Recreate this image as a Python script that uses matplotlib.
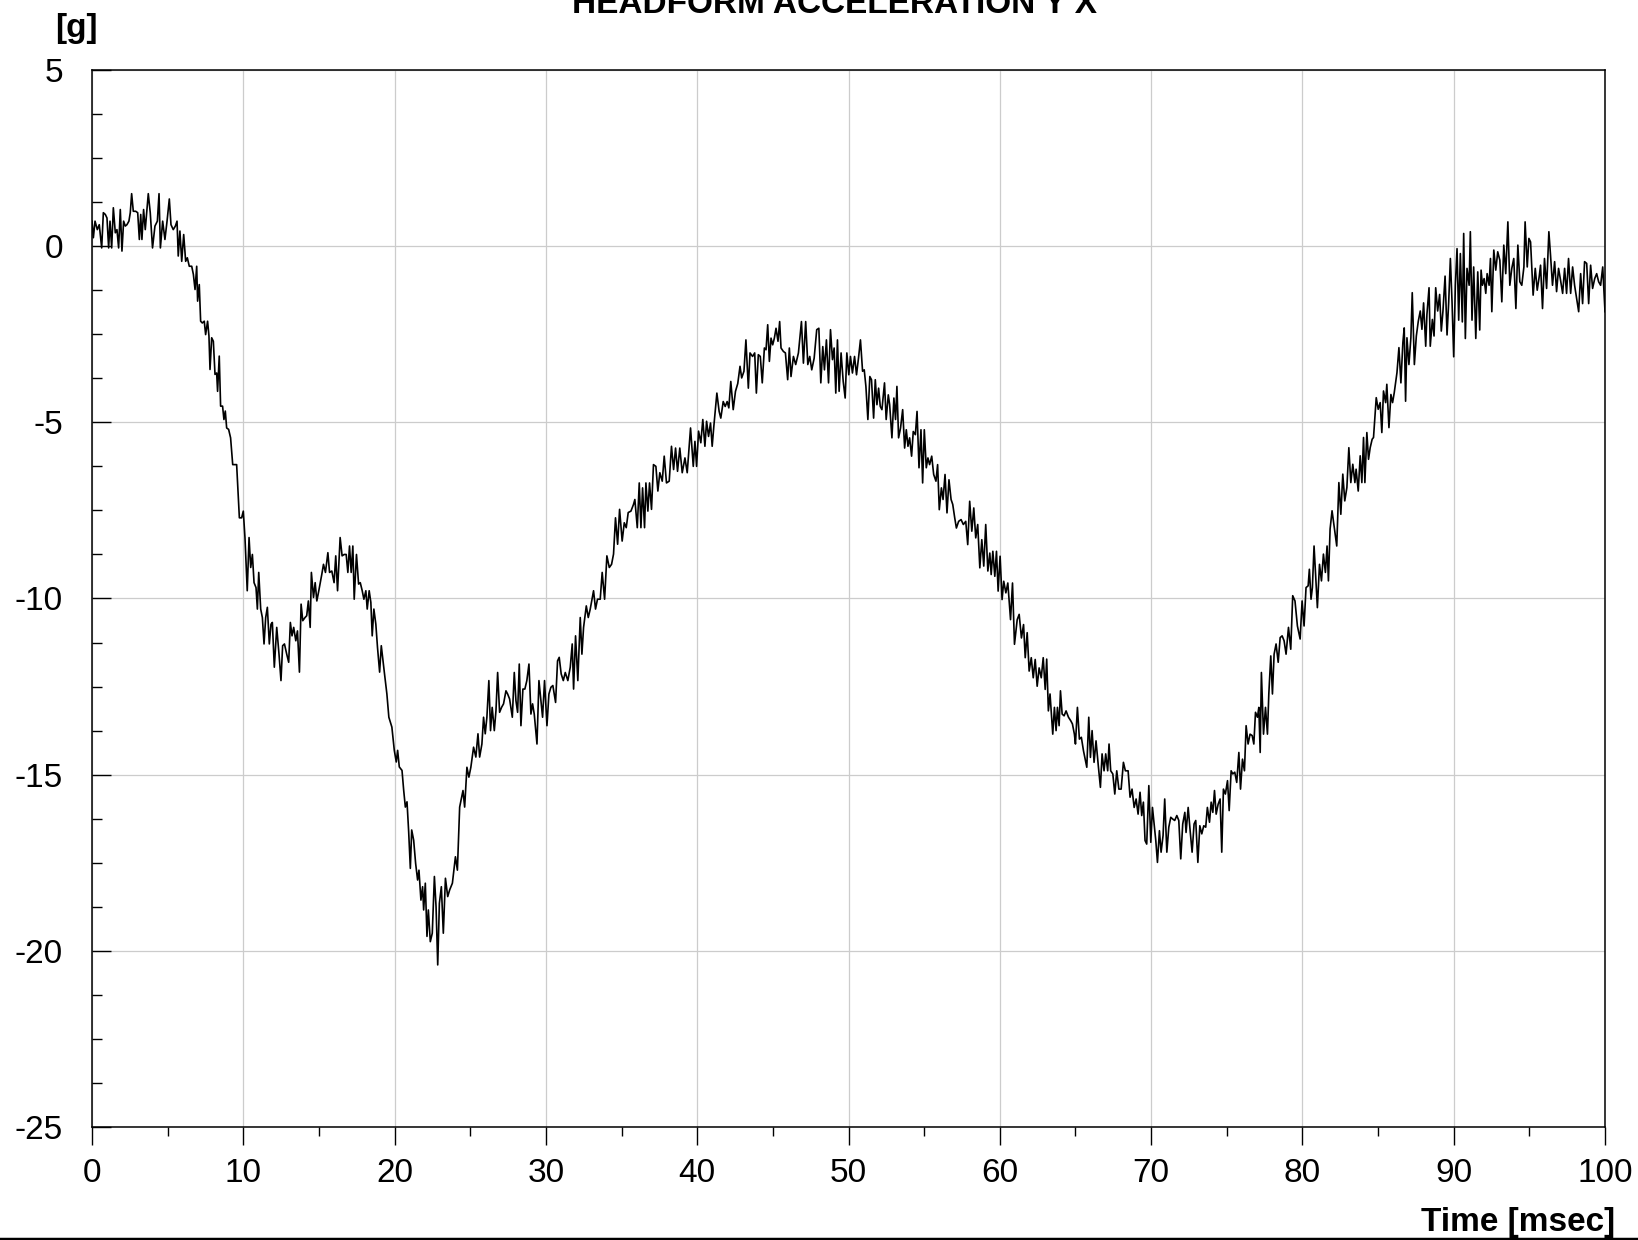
import numpy as np
import matplotlib
matplotlib.use("Agg")
import matplotlib.pyplot as plt
from matplotlib.lines import Line2D

plt.rcParams['font.family'] = ['Liberation Sans', 'DejaVu Sans']
plt.rcParams['axes.unicode_minus'] = False

# headform acceleration, sampled trace (time in msec, acceleration in g)
time_ms = [
    0.00, 0.09, 0.20, 0.35, 0.48, 0.64, 0.75, 0.88, 0.99, 1.10,
    1.19, 1.30, 1.41, 1.54, 1.65, 1.76, 1.87, 1.98, 2.09, 2.20,
    2.31, 2.44, 2.53, 2.62, 2.73, 2.89, 3.02, 3.13, 3.22, 3.30,
    3.41, 3.52, 3.72, 3.85, 4.00, 4.16, 4.32, 4.43, 4.52, 4.67,
    4.82, 4.96, 5.11, 5.22, 5.37, 5.51, 5.62, 5.70, 5.81, 5.93,
    6.06, 6.19, 6.30, 6.43, 6.59, 6.70, 6.81, 6.92, 6.98, 7.09,
    7.18, 7.29, 7.42, 7.51, 7.64, 7.73, 7.80, 7.91, 8.02, 8.13,
    8.24, 8.30, 8.41, 8.50, 8.63, 8.72, 8.81, 8.90, 9.03, 9.16,
    9.30, 9.56, 9.74, 9.89, 10.00,
    10.11, 10.26, 10.38, 10.49, 10.60, 10.71, 10.84, 10.93, 11.02, 11.15,
    11.26, 11.37, 11.48, 11.59, 11.72, 11.83, 11.92, 12.05, 12.21, 12.36,
    12.49, 12.60, 12.72, 12.87, 13.00, 13.11, 13.22, 13.33, 13.47, 13.58,
    13.71, 13.82, 13.93, 14.08, 14.19, 14.30, 14.42, 14.50, 14.64, 14.75,
    14.86, 14.99, 15.19, 15.30, 15.43, 15.59, 15.70, 15.85, 16.00, 16.11,
    16.23, 16.40, 16.53, 16.67, 16.80, 16.91, 17.02, 17.13, 17.24, 17.33,
    17.48, 17.62, 17.73, 17.86, 17.97, 18.10, 18.19, 18.32, 18.43, 18.52,
    18.63, 18.76, 18.87, 19.01, 19.12, 19.23, 19.32, 19.49, 19.62, 19.82,
    19.98, 20.11, 20.20, 20.31, 20.49, 20.60, 20.71, 20.82, 20.93, 21.04,
    21.13, 21.26, 21.39, 21.52, 21.61, 21.74, 21.85, 21.92, 22.03, 22.14,
    22.23, 22.36, 22.49, 22.63, 22.74, 22.85, 22.96, 23.09, 23.22, 23.36,
    23.51, 23.64, 23.82, 24.02, 24.15, 24.30,
    24.52, 24.63, 24.78, 24.91, 25.04, 25.22, 25.37, 25.51, 25.62, 25.77,
    25.88, 25.99, 26.10, 26.23, 26.34, 26.45, 26.59, 26.70, 26.81, 26.94,
    27.07, 27.20, 27.36, 27.47, 27.60, 27.78, 27.91, 28.02, 28.13, 28.24,
    28.35, 28.48, 28.61, 28.74, 28.88, 29.01, 29.12, 29.23, 29.41, 29.54,
    29.67, 29.78, 29.91, 30.07, 30.20, 30.33, 30.46, 30.64, 30.77, 30.88,
    31.01, 31.15, 31.28, 31.45, 31.61, 31.74, 31.83, 31.96, 32.11, 32.27,
    32.38, 32.49, 32.67, 32.80, 32.93, 33.15, 33.28, 33.41, 33.59, 33.72,
    33.88, 34.03, 34.19, 34.34, 34.47, 34.60, 34.74, 34.87, 35.04, 35.18,
    35.31, 35.44, 35.62, 35.79, 35.88, 36.04,
    36.17, 36.28, 36.39, 36.52, 36.61, 36.74, 36.85, 36.98, 37.11, 37.27,
    37.40, 37.53, 37.69, 37.82, 37.97, 38.15, 38.30, 38.44, 38.57, 38.70,
    38.85, 39.01, 39.19, 39.34, 39.56, 39.74, 39.85, 39.96, 40.09, 40.24,
    40.37, 40.51, 40.62, 40.75, 40.88, 40.99, 41.10, 41.30, 41.45, 41.56,
    41.72, 41.85, 41.98, 42.09, 42.22, 42.38, 42.53, 42.68,
    42.83, 42.94, 43.09, 43.22, 43.38, 43.49, 43.66, 43.80, 43.91, 44.04,
    44.17, 44.30, 44.44, 44.55, 44.66, 44.77, 44.88, 44.99, 45.10, 45.21,
    45.34, 45.45, 45.54, 45.70, 45.83, 45.98, 46.09, 46.20, 46.36, 46.51,
    46.69, 46.89, 47.02, 47.17, 47.31, 47.44, 47.57, 47.73, 47.90, 48.04,
    48.17, 48.30, 48.41, 48.54, 48.68, 48.81, 48.94, 49.05, 49.16, 49.27,
    49.38, 49.51, 49.65, 49.78, 49.89, 50.02, 50.13, 50.26, 50.40, 50.53,
    50.66, 50.79, 50.93, 51.04, 51.15, 51.28, 51.41, 51.52, 51.66, 51.77,
    51.88, 51.99, 52.10, 52.21, 52.38, 52.49, 52.63, 52.72, 52.87, 53.00,
    53.11, 53.20, 53.31, 53.44, 53.58, 53.71, 53.82, 53.93, 54.04, 54.17,
    54.28, 54.42, 54.53, 54.66, 54.79, 54.90, 55.01, 55.14, 55.25, 55.36,
    55.50, 55.63, 55.78, 55.89, 56.00, 56.14, 56.25, 56.38, 56.51, 56.64,
    56.78, 56.89, 57.02, 57.13, 57.28, 57.44, 57.59, 57.75, 57.88, 58.01,
    58.15, 58.28, 58.41, 58.54, 58.68, 58.81, 58.94, 59.07, 59.21, 59.34,
    59.43, 59.54, 59.67, 59.78, 59.89, 60.02, 60.15, 60.26, 60.40, 60.53,
    60.71, 60.84, 60.97, 61.15, 61.28, 61.43, 61.57, 61.68, 61.81, 61.94,
    62.08, 62.21, 62.34, 62.47, 62.60, 62.74, 62.87, 63.00,
    63.10, 63.21, 63.32, 63.50, 63.61, 63.72, 63.81, 63.92, 64.01, 64.12,
    64.25, 64.38, 64.54, 64.69, 64.80, 64.93, 65.00, 65.13, 65.26, 65.39,
    65.53, 65.75, 65.88, 65.99, 66.10, 66.23, 66.36, 66.52, 66.65, 66.76,
    66.89, 67.00, 67.13, 67.22, 67.33, 67.47, 67.60, 67.73, 67.87, 68.02,
    68.17, 68.30, 68.48, 68.61, 68.74, 68.88, 69.01, 69.14, 69.27, 69.38,
    69.49, 69.60, 69.71, 69.85, 69.98, 70.09, 70.20, 70.31, 70.42, 70.55,
    70.66, 70.79, 70.90, 71.04, 71.17, 71.30, 71.43, 71.56, 71.70, 71.83,
    71.96, 72.09, 72.23, 72.31, 72.45, 72.58, 72.71, 72.84, 72.95, 73.09,
    73.22, 73.35, 73.48, 73.61, 73.72, 73.86, 73.97, 74.08, 74.19, 74.30,
    74.43, 74.56, 74.67, 74.78, 74.91, 75.05, 75.16, 75.29, 75.40, 75.53,
    75.66, 75.80, 75.91, 76.04, 76.17, 76.28, 76.41, 76.54, 76.68, 76.79,
    76.90, 77.03, 77.12, 77.21, 77.29, 77.43, 77.56, 77.69, 77.78, 77.91,
    78.02, 78.13, 78.26, 78.40, 78.53, 78.66, 78.79, 78.92, 79.08, 79.23,
    79.36,
    79.51, 79.67, 79.85, 79.98, 80.11, 80.24, 80.38, 80.46, 80.57, 80.66,
    80.77, 80.91, 80.99, 81.13, 81.26, 81.39, 81.52, 81.63, 81.72, 81.83,
    81.96, 82.12, 82.27, 82.41, 82.54, 82.67, 82.80, 82.94, 83.07, 83.20,
    83.33, 83.47, 83.55, 83.69, 83.82, 83.93, 84.04, 84.13, 84.26, 84.37,
    84.48, 84.61, 84.70, 84.88, 85.01, 85.14, 85.25, 85.36, 85.50, 85.58,
    85.72, 85.85, 85.96, 86.07, 86.25, 86.38, 86.51, 86.64, 86.73, 86.82,
    86.91, 87.04, 87.17, 87.26, 87.40, 87.53, 87.66, 87.79, 87.90, 88.01,
    88.15, 88.23, 88.37, 88.45, 88.59, 88.70, 88.81, 88.94, 89.07, 89.18,
    89.29, 89.43,
    89.56, 89.67, 89.78, 89.89, 90.00, 90.11, 90.22, 90.33, 90.44, 90.57,
    90.66, 90.77, 90.88, 91.02, 91.10, 91.21, 91.32, 91.46, 91.59, 91.72,
    91.81, 91.90, 92.01, 92.12, 92.21, 92.34, 92.43, 92.52, 92.65, 92.78,
    92.91, 93.05, 93.18, 93.31, 93.44, 93.58, 93.71, 93.84, 93.97, 94.11,
    94.24, 94.37, 94.50, 94.64, 94.72, 94.86, 94.97, 95.08, 95.25, 95.39,
    95.52, 95.65, 95.74, 95.87, 96.00, 96.14, 96.29, 96.40, 96.53, 96.67,
    96.80, 96.93, 97.06, 97.20, 97.33, 97.46, 97.59, 97.73, 97.86, 97.99,
    98.12, 98.26, 98.39, 98.52, 98.65, 98.79, 98.92, 99.05, 99.18, 99.32,
    99.45, 99.58, 99.71, 99.85, 100.00,
]

accel_g = [
    0.71, 0.24, 0.71, 0.47, 0.61, -0.05, 0.95, 0.90, 0.80, -0.05,
    0.71, -0.05, 1.09, 0.38, 0.47, -0.05, 1.04, -0.14, 0.71, 0.57,
    0.61, 0.71, 0.95, 1.49, 0.99, 0.99, 0.95, 0.19, 0.90, 0.19,
    1.04, 0.47, 1.49, 0.95, -0.05, 0.57, 0.71, 1.49, -0.05, 0.71,
    0.19, 0.71, 1.34, 0.61, 0.47, 0.57, 0.71, -0.28, 0.43, -0.43,
    0.33, -0.43, -0.33, -0.57, -0.57, -0.80, -1.23, -0.57, -1.56, -1.09,
    -2.13, -2.18, -2.13, -2.51, -2.13, -2.55, -3.50, -2.60, -2.70, -3.64,
    -3.60, -4.12, -3.12, -4.54, -4.54, -4.92, -4.68, -5.16, -5.20, -5.44,
    -6.20, -6.20, -7.71, -7.71, -7.52,
    -8.27, -9.78, -8.27, -9.12, -8.75, -9.55, -9.69, -10.30, -9.26, -10.30,
    -10.54, -11.29, -10.54, -10.25, -11.29, -10.73, -10.68, -11.95, -10.82, -11.58,
    -12.33, -11.34, -11.29, -11.58, -11.81, -10.68, -11.06, -10.82, -11.20, -10.92,
    -12.09, -10.16, -10.63, -10.54, -10.49, -10.07, -10.82, -9.26, -9.97, -9.55,
    -10.07, -9.78, -9.31, -9.03, -9.26, -8.70, -9.26, -9.22, -9.55, -8.79,
    -9.78, -8.27, -8.79, -8.75, -8.75, -9.26, -8.51, -9.26, -8.51, -10.02,
    -8.75, -9.59, -9.55, -9.78, -10.02, -9.78, -10.30, -9.78, -10.11, -11.06,
    -10.30, -10.73, -11.39, -12.09, -11.34, -11.76, -12.09, -12.71, -13.37, -13.65,
    -14.31, -14.64, -14.31, -14.78, -14.88, -15.44, -15.92, -15.77, -16.62, -17.66,
    -16.57, -16.86, -17.52, -17.99, -17.71, -18.56, -18.18, -18.84, -18.08, -19.59,
    -18.84, -19.74, -19.50, -17.89, -18.75, -20.40, -18.65, -18.18, -19.50, -17.94,
    -18.46, -18.27, -18.08, -17.33, -17.71, -15.92,
    -15.45, -15.92, -14.79, -15.07, -14.79, -14.22, -14.50, -13.84, -14.50, -14.13,
    -13.37, -13.84, -13.37, -12.33, -13.75, -13.09, -13.75, -13.18, -12.10, -13.23,
    -13.09, -12.99, -12.62, -12.71, -12.85, -13.37, -12.10, -12.90, -13.23, -11.86,
    -13.61, -12.57, -12.57, -12.33, -11.86, -13.28, -12.99, -13.28, -14.13, -12.33,
    -12.90, -13.37, -12.33, -13.61, -12.71, -12.52, -12.47, -12.95, -11.77, -11.67,
    -12.14, -12.33, -12.10, -12.33, -11.95, -11.29, -12.57, -11.06, -12.33, -10.54,
    -11.58, -10.82, -10.21, -10.54, -10.30, -9.78, -10.30, -10.02, -10.02, -9.26,
    -10.02, -8.79, -9.12, -9.03, -8.74, -7.71, -8.46, -7.47, -8.37, -7.85,
    -7.99, -7.56, -7.52, -7.33, -7.19, -7.99,
    -6.72, -7.99, -6.86, -7.99, -6.72, -7.52, -6.72, -7.47, -6.20, -6.25,
    -6.95, -6.43, -6.67, -5.96, -6.72, -6.67, -5.68, -6.34, -5.73, -6.39,
    -5.73, -6.43, -6.01, -6.43, -5.16, -6.25, -5.54, -6.25, -5.25, -5.58,
    -4.92, -5.68, -4.97, -5.40, -5.02, -5.68, -5.11, -4.17, -4.69, -4.88,
    -4.41, -4.55, -4.41, -4.59, -3.84, -4.64, -4.12, -3.90,
    -3.41, -3.74, -3.55, -2.66, -4.03, -3.03, -3.13, -3.03, -4.17, -3.08,
    -3.13, -3.88, -2.89, -2.94, -2.23, -3.27, -2.61, -2.80, -2.61, -2.33,
    -2.70, -2.14, -2.89, -2.99, -3.03, -3.79, -2.89, -3.70, -3.13, -3.36,
    -3.03, -2.14, -3.32, -2.14, -3.36, -3.13, -3.51, -3.18, -2.37, -2.33,
    -3.88, -2.85, -3.51, -2.66, -3.88, -2.37, -3.22, -2.89, -4.17, -2.66,
    -4.12, -3.03, -3.84, -4.31, -3.03, -3.65, -3.13, -3.60, -3.13, -3.65,
    -3.18, -2.66, -3.55, -3.51, -3.98, -4.92, -3.70, -3.79, -4.88, -3.79,
    -4.50, -4.03, -4.55, -4.64, -3.88, -4.92, -4.22, -4.50, -5.44, -4.31,
    -4.92, -3.98, -5.44, -5.16, -4.64, -5.73, -5.21, -5.68, -5.44, -5.96,
    -5.26, -5.35, -4.69, -6.29, -5.21, -6.72, -5.21, -6.29, -6.01, -6.20,
    -5.96, -6.48, -6.67, -6.20, -7.48, -6.86, -7.19, -6.48, -7.57, -6.63,
    -7.19, -7.33, -7.71, -8.00, -7.81, -7.76, -7.90, -7.81, -8.47, -7.24,
    -8.09, -7.43, -8.28, -7.90, -9.13, -8.33, -9.08, -7.90, -9.22, -8.71,
    -9.32, -8.66, -9.37, -8.66, -9.79, -8.80, -10.03, -9.51, -9.84, -9.56,
    -10.60, -9.56, -11.30, -10.60, -10.45, -11.12, -10.74, -11.68, -10.97, -12.06,
    -11.68, -12.25, -11.73, -12.49, -11.97, -12.25, -11.68, -12.58,
    -11.72, -13.19, -12.71, -13.85, -13.09, -13.75, -13.09, -13.61, -12.62, -13.28,
    -13.33, -13.19, -13.37, -13.47, -13.56, -13.85, -14.13, -13.09, -13.99, -13.94,
    -14.32, -14.79, -13.37, -14.51, -13.75, -14.65, -14.04, -14.79, -15.36, -14.41,
    -14.89, -14.41, -14.89, -14.13, -14.89, -14.98, -15.55, -14.89, -15.41, -15.41,
    -14.65, -14.89, -14.89, -15.64, -15.41, -15.93, -15.69, -16.12, -15.50, -16.16,
    -15.78, -16.87, -16.97, -15.31, -16.92, -15.93, -16.40, -16.87, -17.49, -16.59,
    -17.20, -16.73, -15.69, -17.20, -16.49, -16.21, -16.26, -16.30, -16.16, -16.30,
    -17.39, -16.40, -16.07, -16.64, -15.93, -16.59, -17.20, -16.40, -16.30, -17.49,
    -16.45, -16.68, -16.45, -16.49, -15.93, -16.35, -15.78, -16.07, -15.45, -16.12,
    -15.84, -15.69, -17.20, -15.41, -15.55, -15.17, -16.02, -14.89, -14.98, -14.93,
    -15.22, -14.37, -15.41, -14.56, -14.89, -13.61, -14.13, -13.85, -13.89, -14.13,
    -13.23, -13.37, -13.09, -14.37, -12.10, -13.85, -13.09, -13.85, -12.71, -11.63,
    -12.71, -11.58, -11.29, -11.81, -11.11, -11.06, -11.20, -11.58, -10.82, -11.44,
    -9.92,
    -10.07, -10.78, -11.15, -10.07, -10.78, -9.69, -9.64, -9.17, -10.02, -9.69,
    -8.51, -9.64, -10.26, -9.03, -9.50, -8.74, -9.26, -8.51, -9.50, -8.03,
    -7.51, -8.03, -8.51, -6.71, -7.61, -6.47, -7.23, -6.85, -5.72, -6.71,
    -6.19, -6.71, -6.33, -6.95, -5.95, -6.71, -5.43, -6.71, -5.29, -6.05,
    -5.72, -5.48, -5.43, -4.30, -4.63, -4.44, -5.29, -4.11, -4.44, -3.92,
    -5.15, -4.21, -4.44, -4.16, -3.59, -2.88, -3.88, -2.74, -2.32, -4.40,
    -2.60, -3.36, -2.60, -1.32, -3.36, -2.55, -2.13, -1.84, -2.36, -1.61,
    -2.84, -1.94, -1.18, -2.84, -2.08, -2.55, -1.18, -1.84, -1.37, -2.41,
    -1.84, -0.85,
    -2.52, -1.58, -0.35, -1.58, -3.14, -1.11, -0.07, -2.10, -0.21, -2.15,
    0.36, -2.62, -0.63, -1.11, 0.41, -2.10, -0.59, -2.62, -0.73, -2.38,
    -0.68, -1.11, -0.92, -1.34, -0.78, -1.11, -0.35, -1.86, -0.11, -0.68,
    -0.16, -0.40, -1.58, 0.03, -0.78, 0.69, -1.11, -0.63, -0.35, -1.77,
    0.03, -1.01, -1.11, -0.59, 0.69, -0.59, 0.22, 0.12, -1.39, -0.63,
    -1.25, -0.87, -0.54, -1.77, -0.35, -1.20, 0.41, -0.26, -1.11, -0.44,
    -1.29, -0.63, -0.96, -1.34, -0.63, -1.34, -0.35, -1.34, -0.59, -1.11,
    -1.48, -1.86, -0.78, -1.63, -0.44, -0.49, -1.63, -0.54, -1.20, -0.92,
    -0.78, -1.01, -1.11, -0.59, -1.86,
]

x_major = np.arange(0, 101, 10)
x_minor = np.arange(5, 100, 10)
y_major = np.arange(-25, 6, 5)
y_minor = np.arange(-25, 5.01, 1.25)

W, H = 1638, 1240
fig = plt.figure(figsize=(W / 100, H / 100), dpi=100)
ax = fig.add_axes([92 / W, 1 - 1127 / H, (1605 - 92) / W, (1127 - 70) / H])

ax.plot(time_ms, accel_g, color='black', lw=1.2, zorder=3)

ax.set_xlim(0, 100)
ax.set_ylim(-25, 5)
ax.set_xticks(x_major)
ax.set_xticks(x_minor, minor=True)
ax.set_yticks(y_major)
ax.set_yticks(y_minor, minor=True)
ax.set_xticklabels([str(v) for v in x_major])
ax.set_yticklabels([str(v) for v in y_major])

ax.tick_params(axis='x', which='major', direction='out', length=13, width=1,
               labelsize=24, pad=9)
ax.tick_params(axis='x', which='minor', direction='out', length=6.5, width=1)
ax.tick_params(axis='y', which='major', direction='in', length=13.5, width=1,
               labelsize=24, pad=21)
ax.tick_params(axis='y', which='minor', direction='in', length=7, width=1)

ax.grid(True, which='major', color='#cccccc', lw=0.9)
ax.set_axisbelow(True)
for s in ax.spines.values():
    s.set_linewidth(1.1)
    s.set_color('black')

fig.text(835 / W, 1 - 13 / H, 'HEADFORM ACCELERATION Y X', ha='center',
         va='baseline', fontsize=24, fontweight='bold')
fig.text(76 / W, 1 - 28 / H, '[g]', ha='center', va='center',
         fontsize=24, fontweight='bold')
fig.text(1615 / W, 1 - 1231 / H, 'Time [msec]', ha='right', va='baseline',
         fontsize=24, fontweight='bold')

# rule along the bottom edge of the page
fig.add_artist(Line2D([0, 1], [1.5 / H, 1.5 / H], transform=fig.transFigure,
                      color='black', lw=2.5))

fig.savefig('out.png', dpi=100)
